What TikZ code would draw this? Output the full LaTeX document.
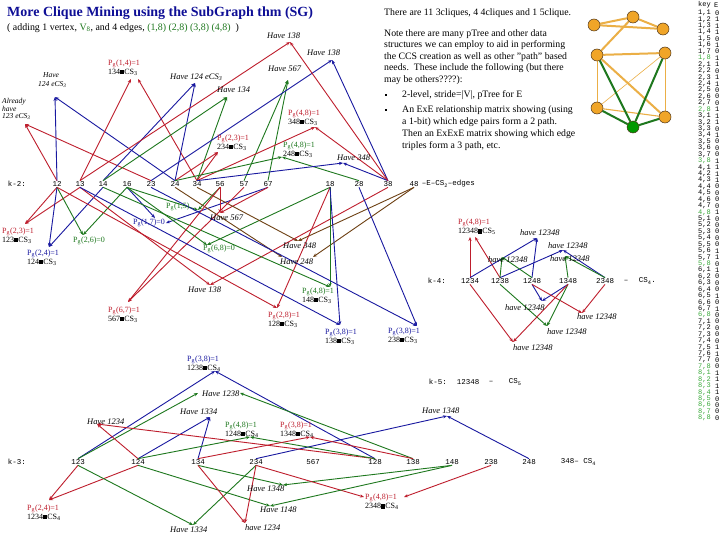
\documentclass[tikz,border=0pt]{standalone}
\usepackage{fontspec}
\setmainfont{Liberation Serif}
\newfontfamily\monof{Liberation Mono}
\usetikzlibrary{arrows.meta}
\definecolor{cred}{RGB}{190,30,45}
\definecolor{cblue}{RGB}{25,25,160}
\definecolor{cgreen}{RGB}{30,120,30}
\definecolor{cbrown}{RGB}{110,65,20}
\definecolor{cnavy}{RGB}{15,15,150}
\definecolor{corange}{RGB}{240,165,40}
\definecolor{cline}{RGB}{235,175,70}
\definecolor{ckgreen}{RGB}{60,170,60}
\newcommand{\sq}{\rule{4.2pt}{4.2pt}}
\newcommand{\Pg}{P\textsubscript{g}}
\newcommand{\CSn}[1]{CS\textsubscript{#1}}
\pgfdeclarelayer{back}
\pgfsetlayers{back,main}
\begin{document}
\begin{tikzpicture}[x=1pt,y=-1pt,
  row/.style={font=\monof\fontsize{7.5}{8}\selectfont, inner sep=0.6pt},
  keyt/.style={font=\monof\fontsize{7}{7}\selectfont, inner sep=0pt, anchor=west},
  lbl/.style={font=\fontsize{8}{9}\selectfont, inner sep=0pt, anchor=west, align=left},
  hv/.style={font=\itshape\fontsize{8.5}{9}\selectfont, inner sep=0pt, anchor=west},
  txt/.style={font=\fontsize{9.8}{11}\selectfont, inner sep=0pt, anchor=west},
  arr/.style={-{Stealth[length=4pt,width=3.2pt]}, line width=0.9pt},
  rd/.style={arr,color=cred},
  bl/.style={arr,color=cblue},
  gr/.style={arr,color=cgreen},
  br/.style={arr,color=cbrown},
  gv/.style={circle, fill=corange, draw=black!60!brown, minimum size=12pt, inner sep=0pt, line width=0.5pt},
  thickE/.style={draw=cline, line width=2pt},
  thinE/.style={draw=cline, line width=0.6pt},
  grE/.style={draw=cgreen, line width=2pt}
]
\useasboundingbox (0,0) rectangle (720,540);
\begin{pgfonlayer}{back}
\fill[white] (0,0) rectangle (720,540);
\end{pgfonlayer}

% ---------- title and text ----------
\node[anchor=west, inner sep=0pt, text=cnavy, font=\bfseries\fontsize{14}{16}\selectfont] (title) at (7,13) {More Clique Mining using the SubGraph thm (SG)};
\node[anchor=west, inner sep=0pt, font=\fontsize{9.9}{11}\selectfont] (sub) at (7,28) {( adding 1 vertex, \textcolor{cgreen}{V\textsubscript{8}}, and 4 edges, \textcolor{cgreen}{(1,8) (2,8) (3,8) (4,8)}\ \ )};

\node[txt] (t0) at (384,13) {There are 11 3cliques, 4 4cliques and 1 5clique.};
\node[txt] (t1) at (384,34) {Note there are many pTree and other data};
\node[txt] (t2) at (384,45.5) {structures we can employ to aid in performing};
\node[txt] (t3) at (384,57) {the CCS creation as well as other "path" based};
\node[txt] (t4) at (384,68.5) {needs.\ \ These include the following (but there};
\node[txt] (t5) at (384,80) {may be others????):};
\node[inner sep=0pt, fill=black, minimum size=2.6pt] (b1) at (386,95) {};
\node[txt] (t6) at (402,95) {2-level, stride=|V|, pTree for E};
\node[inner sep=0pt, fill=black, minimum size=2.6pt] (b2) at (386,110) {};
\node[txt] (t7) at (402,110) {An ExE relationship matrix showing (using};
\node[txt] (t8) at (402,122) {a 1-bit) which edge pairs form a 2 path.};
\node[txt] (t9) at (402,134) {Then an ExExE matrix showing which edge};
\node[txt] (t10) at (402,146) {triples form a 3 path, etc.};

% ---------- small graph ----------
\node[gv] (n1) at (594,25) {};
\node[gv] (n2) at (633,17) {};
\node[gv] (n3) at (663,29) {};
\node[gv] (n4) at (597,55) {};
\node[gv] (n5) at (665,53) {};
\node[gv] (n6) at (597,108) {};
\node[gv] (n7) at (665,117) {};
\node[gv, fill=green!60!black] (n8) at (633,127) {};
\begin{pgfonlayer}{back}
\draw[thickE] (n1) -- (n2);
\draw[thickE] (n1) -- (n3);
\draw[thickE] (n2) -- (n3);
\draw[thickE] (n2) -- (n4);
\draw[thickE] (n4) -- (n5);
\draw[thickE] (n4) -- (n7);
\draw[thinE] (n4) -- (n6);
\draw[thinE] (n5) -- (n7);
\draw[thinE] (n6) -- (n5);
\draw[thinE, line width=1.1pt] (n6) -- (n7);
\draw[grE] (n4) -- (n8);
\draw[grE] (n5) -- (n8);
\draw[grE] (n6) -- (n8);
\draw[grE] (n7) -- (n8);
\end{pgfonlayer}

% ---------- key column ----------
\node[keyt] (kh) at (698,5) {key};
\node[keyt] (eh) at (714,5) {E};
\foreach \r/\vals in {1/{0,1,1,1,0,1,0,1},2/{1,0,1,1,0,0,0,1},3/{1,1,0,1,0,0,0,1},4/{1,1,1,0,0,0,0,1},5/{0,0,0,0,0,1,1,0},6/{1,0,0,0,1,0,1,0},7/{0,0,0,0,1,1,0,0},8/{1,1,1,1,0,0,0,0}}{
  \foreach \v [count=\c] in \vals {
    \pgfmathsetmacro{\yy}{13+6.43*((\r-1)*8+\c-1)}
    \ifnum\c=8 \def\kc{ckgreen}\else\ifnum\r=8 \def\kc{ckgreen}\else\def\kc{black}\fi\fi
    \node[keyt, text=\kc] (k\r\c) at (698,\yy) {\r,\c};
    \node[keyt] (v\r\c) at (715,\yy) {\v};
  }
}

% ---------- k-2 row ----------
\node[row, anchor=west] (k2) at (7,184) {k-2:};
\node[row] (e12) at (57,184) {12};
\node[row] (e13) at (80,184) {13};
\node[row] (e14) at (103,184) {14};
\node[row] (e16) at (127,184) {16};
\node[row] (e23) at (151,184) {23};
\node[row] (e24) at (175,184) {24};
\node[row] (e34) at (197,184) {34};
\node[row] (e56) at (220,184) {56};
\node[row] (e57) at (244,184) {57};
\node[row] (e67) at (268,184) {67};
\node[row] (e18) at (330,184) {18};
\node[row] (e28) at (359,184) {28};
\node[row] (e38) at (388,184) {38};
\node[row] (e48) at (414,184) {48};
\node[row, anchor=west] (e48t) at (421,184) {–E–\CSn{2}–edges};

% ---------- k-4 row ----------
\node[row, anchor=west] (k4) at (427,281) {k-4:};
\node[row] (f1234) at (470,281) {1234};
\node[row] (f1238) at (500,281) {1238};
\node[row] (f1248) at (532,281) {1248};
\node[row] (f1348) at (568,281) {1348};
\node[row] (f2348) at (605,281) {2348};
\node[row] (f4d) at (626,281) {–};
\node[row, anchor=west] (f4c) at (638,281) {\CSn{4}.};

% ---------- k-5 row ----------
\node[row, anchor=west] (k5) at (428,382) {k-5:};
\node[row] (h12348) at (468,382) {12348};
\node[row] (h5d) at (491,382) {–};
\node[row, anchor=west] (h5c) at (508,382) {\CSn{5}};

% ---------- k-3 row ----------
\node[row, anchor=west] (k3) at (7,462) {k-3:};
\node[row] (g123) at (78,462) {123};
\node[row] (g124) at (138,462) {124};
\node[row] (g134) at (198,462) {134};
\node[row] (g234) at (256,462) {234};
\node[row] (g567) at (313,462) {567};
\node[row] (g128) at (375,462) {128};
\node[row] (g138) at (413,462) {138};
\node[row] (g148) at (452,462) {148};
\node[row] (g238) at (491,462) {238};
\node[row] (g248) at (529,462) {248};
\node[row, anchor=west] (g348) at (560,462) {348– \CSn{4}};

% ---------- arrow tips ----------
\coordinate (Talr) at (25,124);
\coordinate (Th124l) at (55,97);
\coordinate (Tp14a) at (131,79);
\coordinate (Tp14b) at (138,79);
\coordinate (Th124c) at (195,83);
\coordinate (Th134) at (227,97);
\coordinate (Th567a) at (288,80);
\coordinate (Tp48r) at (315,127);
\coordinate (Tp23b) at (218,152);
\coordinate (Tp48g) at (282,157);
\coordinate (Th348b) at (343,163);
\coordinate (Th138b) at (332,60);
\coordinate (Th138a) at (290,42);
\coordinate (Tp23a) at (25,224);
\coordinate (Tp24a) at (49,247);
\coordinate (Tp26) at (83,235);
\coordinate (Tp17a) at (155,218);
\coordinate (Tp17b) at (166,223);
\coordinate (Tp15) at (198,210);
\coordinate (Th567b) at (220,213);
\coordinate (Tp68) at (207,245);
\coordinate (Th348c) at (298,241);
\coordinate (Th248a) at (282,257);
\coordinate (Th248b) at (313,257);
\coordinate (Th138c) at (210,285);
\coordinate (Tp48c) at (330,287);
\coordinate (Tp67) at (128,302);
\coordinate (Tp28) at (277,308);
\coordinate (Tp38a) at (340,325);
\coordinate (Tp38b) at (417,326);
\coordinate (Tp48d1) at (470,237);
\coordinate (Tp48d2) at (475,237);
\coordinate (Tha) at (537,238);
\coordinate (Thb) at (563,250);
\coordinate (Thc) at (502,257);
\coordinate (Thd) at (565,256);
\coordinate (The) at (542,301);
\coordinate (Thf) at (582,313);
\coordinate (Thg) at (547,326);
\coordinate (Thh) at (513,342);
\coordinate (Tp38c) at (215,371);
\coordinate (Th1238a) at (198,393);
\coordinate (Th1238b) at (240,393);
\coordinate (Th1334a) at (210,417);
\coordinate (Th1348a) at (447,416);
\coordinate (Th1234a) at (97,424);
\coordinate (Tp48e) at (250,437);
\coordinate (Tp38d) at (310,437);
\coordinate (Th1348b) at (283,485);
\coordinate (Tp48fa) at (364,497);
\coordinate (Tp48fb) at (404,497);
\coordinate (Tp24b) at (49,500);
\coordinate (Th1148) at (270,506);
\coordinate (Th1334b) at (193,525);
\coordinate (Th1234b) at (245,523);

% ---------- labels ----------
\node[hv] (lh138a) at (267,36) {Have 138};
\node[hv] (lh138b) at (307,53) {Have 138};
\node[lbl] (lp14) at (108,67.5) {\textcolor{cred}{\Pg(1,4)=1}\\134\sq\CSn{3}};
\node[hv] (lh124c) at (170,77) {Have 124 e\CSn{3}};
\node[hv] (lh567a) at (268,69) {Have 567};
\node[hv] (lh134) at (217,90) {Have 134};
\node[hv, align=left, font=\itshape\fontsize{7.5}{9}\selectfont] (lh124l) at (38,80) {\hspace{5pt}Have\\124 e\CSn{3}};
\node[hv, align=left, font=\itshape\fontsize{7.5}{6.8}\selectfont] (lalr) at (2,109) {Already\\have\\123 e\CSn{3}};
\node[lbl] (lp48r) at (288,117.5) {\textcolor{cred}{\Pg(4,8)=1}\\348\sq\CSn{3}};
\node[lbl] (lp23b) at (217,142.5) {\textcolor{cred}{\Pg(2,3)=1}\\234\sq\CSn{3}};
\node[lbl] (lp48g) at (283,149.5) {\textcolor{cgreen}{\Pg(4,8)=1}\\248\sq\CSn{3}};
\node[hv] (lh348b) at (337,158) {Have 348};

\node[lbl] (lp23a) at (2,235.5) {\textcolor{cred}{\Pg(2,3)=1}\\123\sq\CSn{3}};
\node[lbl] (lp24a) at (27,257.5) {\textcolor{cblue}{\Pg(2,4)=1}\\124\sq\CSn{3}};
\node[lbl, text=cgreen] (lp26) at (73,241) {\Pg(2,6)=0};
\node[lbl, text=cblue] (lp17) at (133,223) {\Pg(1,7)=0};
\node[lbl, text=cgreen] (lp15) at (166,207) {\Pg(1,5)};
\node[hv] (lh567b) at (210,218) {Have 567};
\node[lbl, text=cgreen] (lp68) at (203,249) {\Pg(6,8)=0};
\node[hv] (lh348c) at (283,246) {Have 348};
\node[hv] (lh248) at (280,262) {Have 248};
\node[hv] (lh138c) at (188,290) {Have 138};
\node[lbl] (lp48c) at (302,295.5) {\textcolor{cgreen}{\Pg(4,8)=1}\\148\sq\CSn{3}};
\node[lbl] (lp67) at (108,314.5) {\textcolor{cred}{\Pg(6,7)=1}\\567\sq\CSn{3}};
\node[lbl] (lp28) at (268,319.5) {\textcolor{cred}{\Pg(2,8)=1}\\128\sq\CSn{3}};
\node[lbl] (lp38a) at (325,336.5) {\textcolor{cblue}{\Pg(3,8)=1}\\138\sq\CSn{3}};
\node[lbl] (lp38b) at (388,335.5) {\textcolor{cblue}{\Pg(3,8)=1}\\238\sq\CSn{3}};

\node[lbl] (lp48d) at (458,227) {\textcolor{cred}{\Pg(4,8)=1}\\12348\sq\CSn{5}};
\node[hv] (lha) at (520,233) {have 12348};
\node[hv] (lhb) at (548,246) {have 12348};
\node[hv] (lhc) at (488,260) {have 12348};
\node[hv] (lhd) at (550,259) {have 12348};
\node[hv] (lhe) at (505,308) {have 12348};
\node[hv] (lhf) at (577,317) {have 12348};
\node[hv] (lhg) at (547,332) {have 12348};
\node[hv] (lhh) at (513,348) {have 12348};

\node[lbl] (lp38c) at (187,363.5) {\textcolor{cblue}{\Pg(3,8)=1}\\1238\sq\CSn{4}};
\node[hv] (lh1238) at (202,394) {Have 1238};
\node[hv] (lh1334a) at (180,412) {Have 1334};
\node[hv] (lh1348a) at (422,411) {Have 1348};
\node[hv] (lh1234a) at (87,422) {Have 1234};
\node[lbl] (lp48e) at (225,429.5) {\textcolor{cgreen}{\Pg(4,8)=1}\\1248\sq\CSn{4}};
\node[lbl] (lp38d) at (280,429.5) {\textcolor{cred}{\Pg(3,8)=1}\\1348\sq\CSn{4}};
\node[hv] (lh1348b) at (247,489) {Have 1348};
\node[lbl] (lp48f) at (365,502) {\textcolor{cred}{\Pg(4,8)=1}\\2348\sq\CSn{4}};
\node[lbl] (lp24b) at (27,512.5) {\textcolor{cred}{\Pg(2,4)=1}\\1234\sq\CSn{4}};
\node[hv] (lh1148) at (260,510) {Have 1148};
\node[hv] (lh1334b) at (170,530) {Have 1334};
\node[hv] (lh1234b) at (245,528) {have 1234};

% ---------- connectors ----------
\begin{pgfonlayer}{back}
% k-2 upward
\draw[rd] (e12.north) -- (Talr);
\draw[rd] (e23.north) -- (Talr);
\draw[bl] (e12.north) -- (Th124l);
\draw[bl] (e24.north) -- (Th124l);
\draw[rd] (e13.north) -- (Tp14a);
\draw[rd] (e34.north) -- (Tp14b);
\draw[bl] (e14.north) -- (Th124c);
\draw[bl] (e24.north) -- (Th124c);
\draw[gr] (e14.north) -- (Th134);
\draw[gr] (e34.north) -- (Th134);
\draw[gr] (e57.north) -- (Th567a);
\draw[gr] (e67.north) -- (Th567a);
\draw[rd] (e34.north) -- (Tp48r);
\draw[rd] (e38.north) -- (Tp48r);
\draw[rd] (e24.north) -- (Tp23b);
\draw[rd] (e34.north) -- (Tp23b);
\draw[gr] (e24.north) -- (Tp48g);
\draw[gr] (e28.north) -- (Tp48g);
\draw[bl] (e34.north) -- (Th348b);
\draw[bl] (e38.north) -- (Th348b);
\draw[bl] (e23.north) -- (Th138b);
\draw[bl] (e38.north) -- (Th138b);
\draw[rd] (e13.north) -- (Th138a);
\draw[rd] (e38.north) -- (Th138a);
% k-2 downward
\draw[rd] (e12.south) -- (Tp23a);
\draw[rd] (e13.south) -- (Tp23a);
\draw[bl] (e12.south) -- (Tp24a);
\draw[bl] (e14.south) -- (Tp24a);
\draw[gr] (e12.south) -- (Tp26);
\draw[gr] (e16.south) -- (Tp26);
\draw[bl] (e16.south) -- (Tp17a);
\draw[bl] (e67.south) -- (Tp17b);
\draw[gr] (e16.south) -- (Tp15);
\draw[gr] (e56.south) -- (Tp15);
\draw[rd] (e56.south) -- (Th567b);
\draw[rd] (e67.south) -- (Th567b);
\draw[gr] (e16.south) -- (Tp68);
\draw[gr] (e18.south) -- (Tp68);
\draw[br] (e34.south) -- (Th348c);
\draw[br] (e48.south) -- (Th348c);
\draw[br] (e24.south) -- (Th248a);
\draw[br] (e48.south) -- (Th248b);
\draw[rd] (e13.south) -- (Th138c);
\draw[rd] (e38.south) -- (Th138c);
\draw[gr] (e14.south) -- (Tp48c);
\draw[gr] (e18.south) -- (Tp48c);
\draw[rd] (e56.south) -- (Tp67);
\draw[rd] (e57.south) -- (Tp67);
\draw[rd] (e12.south) -- (Tp28);
\draw[rd] (e18.south) -- (Tp28);
\draw[bl] (e13.south) -- (Tp38a);
\draw[bl] (e18.south) -- (Tp38a);
\draw[bl] (e23.south) -- (Tp38b);
\draw[bl] (e28.south) -- (Tp38b);
% k-4
\draw[rd] (f1234.north) -- (Tp48d1);
\draw[rd] (f1238.north) -- (Tp48d2);
\draw[bl] (f1234.north) -- (Tha);
\draw[bl] (f1248.north) -- (Tha);
\draw[bl] (f1238.north) -- (Thb);
\draw[bl] (f2348.north) -- (Thb);
\draw[gr] (f1238.north) -- (Thc);
\draw[gr] (f1248.north) -- (Thc);
\draw[gr] (f1348.north) -- (Thd);
\draw[gr] (f2348.north) -- (Thd);
\draw[bl] (f1248.south) -- (The);
\draw[bl] (f1348.south) -- (The);
\draw[rd] (f1248.south) -- (Thf);
\draw[rd] (f2348.south) -- (Thf);
\draw[gr] (f1238.south) -- (Thg);
\draw[gr] (f1348.south) -- (Thg);
\draw[rd] (f1234.south) -- (Thh);
\draw[rd] (f1348.south) -- (Thh);
% k-3 upward
\draw[bl] (g123.north) -- (Tp38c);
\draw[bl] (g128.north) -- (Tp38c);
\draw[gr] (g123.north) -- (Th1238a);
\draw[gr] (g138.north) -- (Th1238b);
\draw[bl] (g124.north) -- (Th1334a);
\draw[bl] (g134.north) -- (Th1334a);
\draw[bl] (g234.north) -- (Th1348a);
\draw[bl] (g248.north) -- (Th1348a);
\draw[rd] (g124.north) -- (Th1234a);
\draw[rd] (g128.north) -- (Th1234a);
\draw[gr] (g124.north) -- (Tp48e);
\draw[gr] (g128.north) -- (Tp48e);
\draw[rd] (g134.north) -- (Tp38d);
\draw[rd] (g138.north) -- (Tp38d);
% k-3 downward
\draw[gr] (g134.south) -- (Th1348b);
\draw[gr] (g148.south) -- (Th1348b);
\draw[rd] (g234.south) -- (Tp48fa);
\draw[rd] (g238.south) -- (Tp48fb);
\draw[rd] (g123.south) -- (Tp24b);
\draw[rd] (g124.south) -- (Tp24b);
\draw[gr] (g124.south) -- (Th1148);
\draw[gr] (g148.south) -- (Th1148);
\draw[gr] (g123.south) -- (Th1334b);
\draw[gr] (g234.south) -- (Th1334b);
\draw[rd] (g134.south) -- (Th1234b);
\draw[rd] (g234.south) -- (Th1234b);
\end{pgfonlayer}
\end{tikzpicture}
\end{document}
